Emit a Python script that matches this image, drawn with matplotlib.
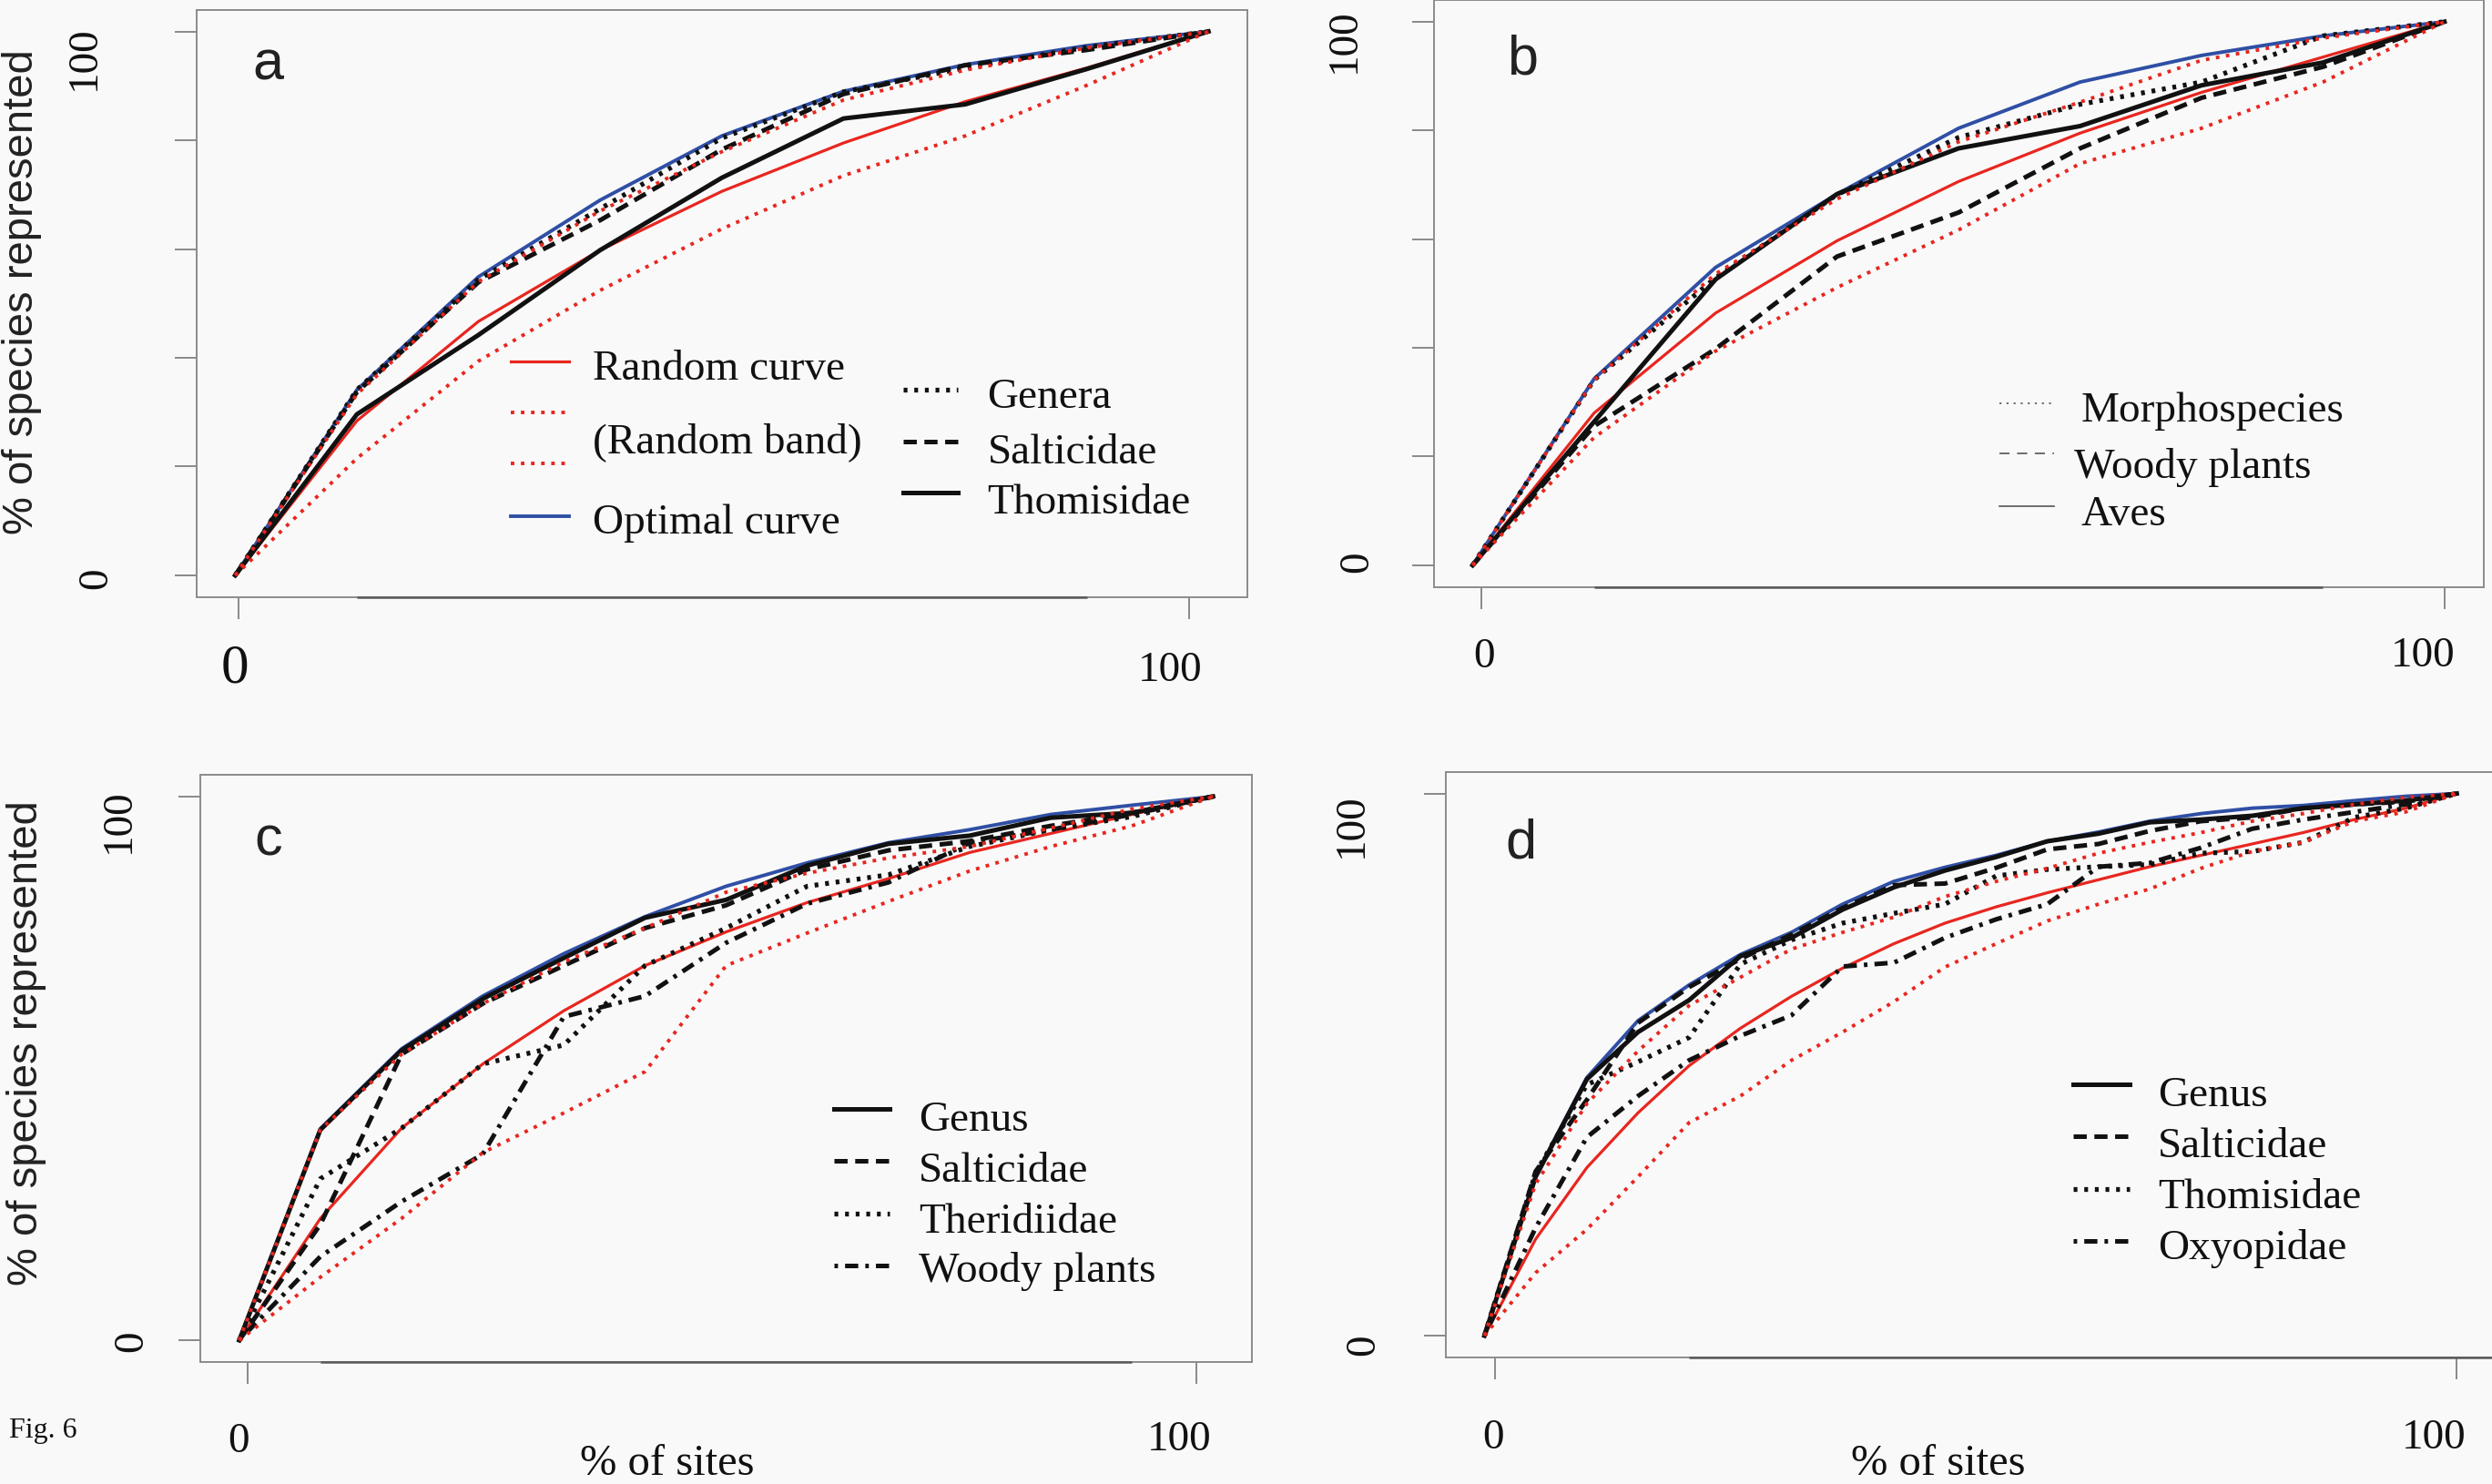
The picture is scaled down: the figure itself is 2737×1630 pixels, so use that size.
import numpy as np
import matplotlib
matplotlib.use("Agg")
import matplotlib.pyplot as plt
from matplotlib.lines import Line2D

plt.rcParams['lines.scale_dashes'] = False

# ---------------- data ----------------
# panel a (8 sites)
XA = [0, 12.5, 25, 37.5, 50, 62.5, 75, 87.5, 100]
A_OPT = [0, 34.1, 54.9, 69.0, 80.8, 89.0, 93.9, 97.4, 100]
A_RAND = [0, 28.4, 46.7, 59.8, 70.6, 79.5, 87.1, 93.3, 100]
A_UP = [0, 33.3, 54.0, 67.0, 77.9, 87.4, 92.9, 97.0, 100]
A_LO = [0, 21.5, 39.4, 52.4, 63.7, 73.5, 80.8, 90.1, 100]
A_GENERA = [0, 34.1, 54.4, 67.4, 80.4, 88.9, 93.3, 97.1, 100]
A_SALT = [0, 33.7, 53.9, 65.3, 78.3, 88.5, 93.8, 96.6, 100]
A_THOM = [0, 29.6, 44.2, 59.8, 73.1, 84.0, 86.6, 93.1, 100]

# panel b (8 sites)
XB = [0, 12.5, 25, 37.5, 50, 62.5, 75, 87.5, 100]
B_OPT = [0, 34.3, 54.8, 68.3, 80.4, 88.9, 93.8, 97.4, 100]
B_RAND = [0, 28.0, 46.4, 59.7, 70.6, 79.5, 87.0, 93.5, 100]
B_UP = [0, 34.1, 53.6, 67.4, 77.9, 85.2, 92.9, 97.0, 100]
B_LO = [0, 23.5, 39.4, 51.1, 61.7, 73.9, 80.4, 88.9, 100]
B_MORPHO = [0, 34.1, 52.9, 68.2, 78.7, 84.8, 88.9, 97.4, 100]
B_WOODY = [0, 25.6, 39.8, 56.8, 64.9, 76.7, 86.0, 91.7, 100]
B_AVES = [0, 26.4, 52.6, 68.3, 76.7, 80.8, 88.3, 92.5, 100]

# panel c (12 sites)
XC = [0, 8.33, 16.67, 25, 33.33, 41.67, 50, 58.33, 66.67, 75, 83.33, 91.67, 100]
C_OPT = [0, 38.9, 53.6, 63.3, 71.1, 77.9, 83.5, 87.8, 91.5, 93.9, 96.7, 98.4, 100]
C_RAND = [0, 22.4, 39.0, 50.8, 60.6, 68.9, 75.1, 80.5, 84.9, 89.7, 93.2, 96.7, 100]
C_UP = [0, 38.7, 52.6, 61.9, 69.6, 75.8, 82.4, 85.9, 88.7, 90.8, 94.2, 97.7, 100]
C_LO = [0, 11.6, 22.4, 34.5, 41.8, 49.4, 68.9, 74.9, 80.7, 86.3, 90.8, 94.6, 100]
C_GENUS = [0, 38.7, 53.3, 62.8, 70.3, 77.7, 81.0, 87.3, 91.3, 92.8, 96.1, 97.0, 100]
C_SALT = [0, 21.3, 52.6, 61.9, 68.9, 75.8, 80.0, 86.6, 90.1, 91.8, 94.6, 97.0, 100]
C_THER = [0, 29.7, 39.0, 50.8, 54.3, 68.9, 75.8, 83.5, 85.6, 90.8, 93.9, 96.3, 100]
C_WOODY = [0, 15.4, 25.5, 34.2, 59.5, 63.3, 73.1, 80.3, 84.2, 91.5, 93.9, 96.7, 100]

# panel d (19 sites)
XD = [0, 5.26, 10.53, 15.79, 21.05, 26.32, 31.58, 36.84, 42.11, 47.37, 52.63,
      57.89, 63.16, 68.42, 73.68, 78.95, 84.21, 89.47, 94.74, 100]
D_OPT = [0, 29.5, 47.6, 58.1, 64.7, 70.3, 74.4, 79.6, 83.8, 86.4, 88.6, 91.2,
         92.9, 94.9, 96.3, 97.3, 97.8, 98.7, 99.5, 100]
D_RAND = [0, 17.8, 31.0, 41.1, 49.8, 56.7, 62.6, 67.8, 72.3, 76.1, 79.1, 81.7,
          84.1, 86.5, 88.6, 90.7, 92.8, 95.2, 97.3, 100]
D_UP = [0, 28.0, 42.8, 52.5, 60.9, 66.1, 71.3, 74.4, 77.2, 81.0, 83.8, 86.2,
        89.0, 91.0, 92.8, 94.9, 96.3, 98.0, 99.3, 100]
D_LO = [0, 11.6, 19.6, 29.3, 39.3, 44.2, 50.8, 56.0, 61.6, 68.0, 72.3, 76.5,
        79.6, 82.4, 86.2, 89.3, 91.0, 94.9, 96.6, 100]
D_GENUS = [0, 29.3, 47.3, 56.0, 61.9, 70.0, 73.4, 78.6, 82.7, 85.8, 88.3, 91.2,
           92.6, 94.7, 95.2, 95.9, 97.3, 98.0, 98.7, 100]
D_SALT = [0, 30.3, 43.5, 57.7, 64.3, 69.5, 74.0, 78.9, 83.1, 83.4, 86.3, 89.7,
          90.7, 93.1, 94.9, 95.6, 97.3, 98.0, 98.5, 100]
D_THOM = [0, 30.0, 46.3, 50.5, 55.0, 68.5, 73.0, 76.1, 77.9, 79.6, 84.8, 86.0,
          86.5, 86.9, 89.0, 89.3, 91.0, 95.6, 97.3, 100]
D_OXY = [0, 19.9, 36.6, 44.2, 50.8, 55.3, 59.1, 68.1, 68.8, 73.4, 76.8, 79.6,
         86.5, 87.2, 90.0, 93.5, 95.2, 96.6, 98.0, 100]

PANEL_LETTERS = ['a', 'b', 'c', 'd']
LEG_A1 = ['Random curve', '(Random band)', 'Optimal curve']
LEG_A2 = ['Genera', 'Salticidae', 'Thomisidae']
LEG_B = ['Morphospecies', 'Woody plants', 'Aves']
LEG_C = ['Genus', 'Salticidae', 'Theridiidae', 'Woody plants']
LEG_D = ['Genus', 'Salticidae', 'Thomisidae', 'Oxyopidae']
YLABEL = '% of species represented'
XLABEL = '% of sites'
YTICK_LABELS = ['0', '100']
XTICK_LABELS = ['0', '100']

# ---------------- style ----------------
W, H = 2737, 1631
DPI = 200
BG = '#f9f9f9'
RED = '#e8261f'
BLUE = '#2f4fa5'
BLACK = '#111111'
SPINE = '#8c8c8c'
SERIF = ['Liberation Serif', 'DejaVu Serif']
SANS = ['Liberation Sans', 'DejaVu Sans']

STY = {
    'opt': dict(color=BLUE, lw=1.4, ls='-'),
    'rand': dict(color=RED, lw=1.15, ls='-'),
    'band': dict(color=RED, lw=1.4, ls=(0, (1.4, 2.6))),
    'solid': dict(color=BLACK, lw=1.8, ls='-'),
    'dashed': dict(color=BLACK, lw=1.8, ls=(0, (5.2, 3.0))),
    'dotted': dict(color=BLACK, lw=1.9, ls=(0, (1.5, 2.7))),
    'dotdash': dict(color=BLACK, lw=1.8, ls=(0, (1.4, 2.8, 5.2, 2.8))),
}

fig = plt.figure(figsize=(W / DPI, H / DPI), dpi=DPI, facecolor=BG)


def rect(l, r, t, b):
    return [l / W, 1 - b / H, (r - l) / W, (b - t) / H]


def ftext(x, y, s, **kw):
    fig.text(x / W, 1 - y / H, s, **kw)


def fline(x1, x2, y, **kw):
    fig.add_artist(Line2D([x1 / W, x2 / W], [1 - y / H, 1 - y / H],
                          transform=fig.transFigure, **kw))


def make_axes(r, yticks, xticks, dark_span):
    ax = fig.add_axes(r)
    ax.set_facecolor(BG)
    ax.set_xlim(-4, 104)
    ax.set_ylim(-4, 104)
    for s in ax.spines.values():
        s.set_color(SPINE)
        s.set_linewidth(0.7)
    ax.set_yticks(yticks)
    ax.set_xticks(xticks)
    ax.tick_params(direction='out', length=8.6, width=0.6, color='#777777',
                   labelleft=False, labelbottom=False)
    ax.plot(dark_span, [-4, -4], color='#5a5a5a', lw=0.9, clip_on=False,
            solid_capstyle='butt', zorder=5)
    return ax


def draw(ax, x, series):
    for y, key in series:
        ax.plot(x, y, solid_joinstyle='round', dash_capstyle='butt', **STY[key])


YT6 = [0, 20, 40, 60, 80, 100]
YT2 = [0, 100]

axA = make_axes(rect(215.6, 1370, 11.7, 656.8), YT6, [0.33, 98.0], [12.5, 87.5])
axB = make_axes(rect(1574.7, 2727.5, 1.0, 645.7), YT6, [0.9, 100], [12.5, 87.5])
axC = make_axes(rect(220, 1375, 852, 1497), YT2, [0.84, 98.3], [8.33, 91.67])
axD = make_axes(rect(1587.7, 2741, 848.8, 1491.9), YT2, [1.09, 100], [21.05, 104])

draw(axA, XA, [(A_OPT, 'opt'), (A_RAND, 'rand'), (A_THOM, 'solid'),
               (A_SALT, 'dashed'), (A_GENERA, 'dotted'),
               (A_UP, 'band'), (A_LO, 'band')])
draw(axB, XB, [(B_OPT, 'opt'), (B_RAND, 'rand'), (B_AVES, 'solid'),
               (B_WOODY, 'dashed'), (B_MORPHO, 'dotted'),
               (B_UP, 'band'), (B_LO, 'band')])
draw(axC, XC, [(C_OPT, 'opt'), (C_RAND, 'rand'), (C_GENUS, 'solid'),
               (C_SALT, 'dashed'), (C_THER, 'dotted'), (C_WOODY, 'dotdash'),
               (C_UP, 'band'), (C_LO, 'band')])
draw(axD, XD, [(D_OPT, 'opt'), (D_RAND, 'rand'), (D_GENUS, 'solid'),
               (D_SALT, 'dashed'), (D_THOM, 'dotted'), (D_OXY, 'dotdash'),
               (D_UP, 'band'), (D_LO, 'band')])

# ---------------- panel letters ----------------
for (lx, ly), lt in zip([(277, 87), (1655, 82), (279, 939), (1653, 943)], PANEL_LETTERS):
    ftext(lx, ly, lt, family=SANS, fontsize=22, color='#222222',
          ha='left', va='baseline')

# ---------------- legends ----------------
LEGFS = 17
# panel a, left block
for lab, bl in zip(LEG_A1, [417, 497, 586.5]):
    ftext(651, bl, lab, family=SERIF, fontsize=LEGFS, color=BLACK,
          ha='left', va='baseline')
for ly in [454, 510]:
    fline(561, 625, ly, **STY['band'])
fline(561, 625, 398, **STY['rand'])
fline(561, 625, 568, **STY['opt'])
# panel a, right block
for lab, key, ly, bl in zip(LEG_A2, ['dotted', 'dashed', 'solid'], [429, 486, 542],
                            [448.4, 509, 563.7]):
    fline(992, 1052, ly, **STY[key])
    ftext(1084.5, bl, lab, family=SERIF, fontsize=LEGFS, color=BLACK,
          ha='left', va='baseline')
# panel b (thin legend lines)
thin = {'dotted': (0, (0.8, 2.0)), 'dashed': (0, (4.0, 3.0)), 'solid': '-'}
for lab, key, ly, tx, bl in zip(LEG_B, ['dotted', 'dashed', 'solid'],
                                [443.5, 499, 556.5], [2286, 2277.5, 2286],
                                [463, 525, 577]):
    fline(2196, 2256, ly, color='#555555', lw=0.6, ls=thin[key])
    ftext(tx, bl, lab, family=SERIF, fontsize=LEGFS, color=BLACK,
          ha='left', va='baseline')
# panel c
for lab, key, ly, bl in zip(LEG_C, ['solid', 'dashed', 'dotted', 'dotdash'],
                            [1219, 1276, 1334, 1391], [1242, 1298, 1354, 1408]):
    fline(916, 977, ly, **STY[key])
    ftext(1009, bl, lab, family=SERIF, fontsize=LEGFS, color=BLACK,
          ha='left', va='baseline')
# panel d
for lab, key, ly, bl in zip(LEG_D, ['solid', 'dashed', 'dotted', 'dotdash'],
                            [1192, 1249, 1307, 1364], [1215, 1271, 1327, 1383]):
    fline(2277, 2339, ly, **STY[key])
    ftext(2370, bl, lab, family=SERIF, fontsize=LEGFS, color=BLACK,
          ha='left', va='baseline')

# ---------------- tick labels ----------------
TFS = 17
# y tick labels (rotated): centres of "100" and "0"
for (x100, y100), (x0, y0) in [((88, 64), (101, 635)), ((1472, 45), (1486, 617)),
                               ((125.5, 902), (140, 1473)), ((1479.5, 907), (1492.5, 1477))]:
    ftext(x100 + 5, y100, YTICK_LABELS[1], family=SERIF, fontsize=TFS, color=BLACK,
          rotation=90, ha='center', va='center')
    ftext(x0 + 5, y0, YTICK_LABELS[0], family=SERIF, fontsize=TFS, color=BLACK,
          rotation=90, ha='center', va='center')

# x tick labels: centre x, baseline y, size
xlabs = [(258, 750, 22, XTICK_LABELS[0]), (1285, 748, TFS, XTICK_LABELS[1]),
         (1630, 733, TFS, XTICK_LABELS[0]), (2661.5, 732, TFS, XTICK_LABELS[1]),
         (262, 1595, TFS, XTICK_LABELS[0]), (1295, 1593, TFS, XTICK_LABELS[1]),
         (1640, 1591, TFS, XTICK_LABELS[0]), (2673.5, 1591, TFS, XTICK_LABELS[1])]
for x, y, fs, s in xlabs:
    ftext(x, y, s, family=SERIF, fontsize=fs, color=BLACK, ha='center', va='baseline')

# axis titles
for x, y in [(24, 321), (28.6, 1146)]:
    ftext(x, y, YLABEL, family=SANS, fontsize=17, color='#222222', rotation=90,
          ha='center', va='center')
for x in [733, 2129]:
    ftext(x, 1620, XLABEL, family=SERIF, fontsize=17.5, color=BLACK,
          ha='center', va='baseline')

ftext(10.5, 1579, 'Fig. 6', family=SERIF, fontsize=11.5, color=BLACK,
      ha='left', va='baseline')

fig.savefig('out.png', dpi=DPI, facecolor=BG)
